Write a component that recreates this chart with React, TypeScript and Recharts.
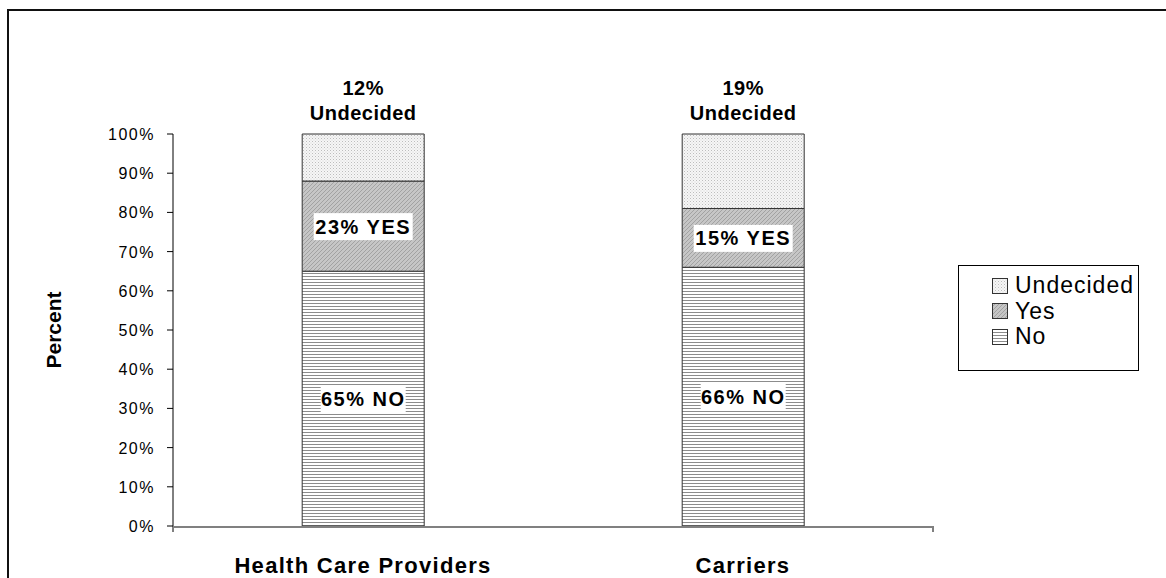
import React from 'react';
import { BarChart, Bar, XAxis, YAxis, Legend, LabelList } from 'recharts';

const categories = ['Health Care Providers', 'Carriers'];
const noValues = [65, 66];
const yesValues = [23, 15];
const undecidedValues = [12, 19];
const yTicks = [0, 10, 20, 30, 40, 50, 60, 70, 80, 90, 100];
const legendOrder = ['Undecided', 'Yes', 'No'];

const data = categories.map((name, i) => ({
  name,
  No: noValues[i],
  Yes: yesValues[i],
  Undecided: undecidedValues[i],
}));

const FONT = 'Arial, "Liberation Sans", sans-serif';

// hatch fills, same look as the old spreadsheet chart
function Patterns({ s = '' }: { s?: string }) {
  return (
    <defs>
      <pattern id={`patNo${s}`} width="6" height="3" patternUnits="userSpaceOnUse">
        <rect width="6" height="3" fill="#ffffff" />
        <rect y="0" width="6" height="1" fill="#8c8c8c" />
      </pattern>
      <pattern id={`patYes${s}`} width="4" height="4" patternUnits="userSpaceOnUse">
        <rect width="4" height="4" fill="#c6c6c6" />
        <path d="M-1,1 l2,-2 M0,4 l4,-4 M3,5 l2,-2" stroke="#a2a2a2" strokeWidth="1" />
      </pattern>
      <pattern id={`patUnd${s}`} width="3" height="3" patternUnits="userSpaceOnUse">
        <rect width="3" height="3" fill="#f6f6f6" />
        <rect x="0" y="0" width="1" height="1" fill="#bdbdbd" />
        <rect x="1.5" y="1.5" width="1" height="1" fill="#d4d4d4" />
      </pattern>
    </defs>
  );
}

const fills: Record<string, string> = {
  No: 'patNo',
  Yes: 'patYes',
  Undecided: 'patUnd',
};

function BoxLabel(props: any, suffix: string) {
  const { x, y, width, height, value } = props;
  const cx = x + width / 2;
  const cy = y + height / 2;
  const text = `${value}% ${suffix}`;
  const w = text.length * 14 + 1;
  return (
    <g>
      <rect x={cx - w / 2} y={cy - 13} width={w} height={27} fill="#ffffff" />
      <text
        x={cx}
        y={cy + 7.5}
        textAnchor="middle"
        fontFamily={FONT}
        fontWeight="bold"
        fontSize={20}
        letterSpacing={1.5}
        fill="#000"
      >
        {text}
      </text>
    </g>
  );
}

function TopLabel(props: any) {
  const { x, y, width, value } = props;
  const cx = x + width / 2;
  const style = { fontFamily: FONT, fontWeight: 'bold' as const, fontSize: 20, letterSpacing: 0.5 };
  return (
    <g>
      <text x={cx} y={y - 39} textAnchor="middle" fill="#000" {...style}>
        {value}%
      </text>
      <text x={cx} y={y - 14} textAnchor="middle" fill="#000" {...style}>
        Undecided
      </text>
    </g>
  );
}

function CategoryTick(props: any) {
  const { x, y, payload } = props;
  return (
    <text
      x={x}
      y={y + 38}
      textAnchor="middle"
      fontFamily={FONT}
      fontWeight="bold"
      fontSize={22}
      letterSpacing={1.3}
      fill="#000"
    >
      {payload.value}
    </text>
  );
}

function PercentTick(props: any) {
  const { x, y, payload } = props;
  return (
    <text x={x} y={y + 6} textAnchor="end" fontFamily={FONT} fontSize={16} letterSpacing={1.5} fill="#000">
      {payload.value}%
    </text>
  );
}

function LegendBox({ payload }: any) {
  const items = legendOrder.map((n) => (payload || []).find((p: any) => p.value === n)).filter(Boolean);
  return (
    <div
      style={{
        width: 181,
        height: 106,
        boxSizing: 'border-box',
        border: '1px solid #000',
        background: '#fff',
        paddingTop: 7,
        paddingLeft: 33,
      }}
    >
      {items.map((it: any) => (
        <div key={it.value} style={{ display: 'flex', alignItems: 'center', height: 25.5 }}>
          <svg width={16} height={16} style={{ marginRight: 7 }}>
            <Patterns s="L" />
            <rect x={0.5} y={0.5} width={15} height={15} fill={`url(#${fills[it.value]}L)`} stroke="#333" />
          </svg>
          <span style={{ fontFamily: FONT, fontSize: 23, letterSpacing: 1, lineHeight: '25px', color: '#000' }}>
            {it.value}
          </span>
        </div>
      ))}
    </div>
  );
}

export default function App() {
  return (
    <div style={{ position: 'fixed', left: 0, top: 0, width: 1166, height: 578, overflow: 'hidden', background: '#fff' }}>
      <div
        style={{
          position: 'absolute',
          left: 7,
          top: 9,
          width: 1200,
          height: 600,
          borderTop: '2px solid #111',
          borderLeft: '2px solid #111',
        }}
      />
      <div style={{ position: 'absolute', left: 0, top: 0 }}>
        <BarChart
          width={1166}
          height={578}
          data={data}
          margin={{ top: 134, right: 233, bottom: 0, left: 0 }}
          barCategoryGap="34%"
        >
          <Patterns />
          <XAxis
            xAxisId={0}
            type="number"
            domain={[0, 2]}
            ticks={[0, 1, 2]}
            height={1}
            tick={<g />}
            axisLine={false}
            tickLine={{ stroke: '#000', strokeWidth: 1 }}
            tickSize={6}
          />
          <XAxis
            xAxisId={1}
            dataKey="name"
            height={51}
            tickLine={false}
            axisLine={{ stroke: '#808080', strokeWidth: 2 }}
            tick={<CategoryTick />}
          />
          <YAxis
            width={173}
            domain={[0, 100]}
            ticks={yTicks}
            interval={0}
            tickSize={6}
            tickMargin={12}
            axisLine={{ stroke: '#000', strokeWidth: 1 }}
            tickLine={{ stroke: '#000', strokeWidth: 1 }}
            tick={<PercentTick />}
            label={{
              content: () => (
                <text
                  x={53}
                  y={330}
                  transform="rotate(-90, 53, 330)"
                  textAnchor="middle"
                  dominantBaseline="central"
                  fontFamily={FONT}
                  fontWeight="bold"
                  fontSize={21}
                  fill="#000"
                >
                  Percent
                </text>
              ),
            }}
          />
          <Legend
            layout="horizontal"
            align="center"
            verticalAlign="middle"
            wrapperStyle={{ left: 958, top: 265, width: 181, right: 'auto', bottom: 'auto' }}
            content={<LegendBox />}
          />
          <Bar dataKey="No" name="No" stackId="a" xAxisId={1} fill="url(#patNo)" stroke="#333" strokeWidth={1} isAnimationActive={false}>
            <LabelList dataKey="No" content={(p: any) => BoxLabel(p, 'NO')} />
          </Bar>
          <Bar dataKey="Yes" name="Yes" stackId="a" xAxisId={1} fill="url(#patYes)" stroke="#333" strokeWidth={1} isAnimationActive={false}>
            <LabelList dataKey="Yes" content={(p: any) => BoxLabel(p, 'YES')} />
          </Bar>
          <Bar
            dataKey="Undecided"
            name="Undecided"
            stackId="a"
            xAxisId={1}
            fill="url(#patUnd)"
            stroke="#333"
            strokeWidth={1}
            isAnimationActive={false}
          >
            <LabelList dataKey="Undecided" content={TopLabel} />
          </Bar>
        </BarChart>
      </div>
    </div>
  );
}
